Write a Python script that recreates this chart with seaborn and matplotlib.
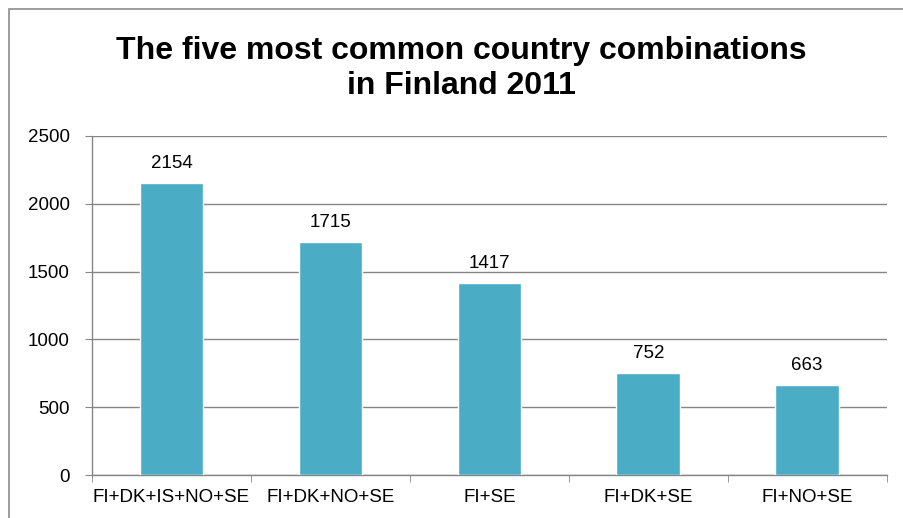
import matplotlib
matplotlib.use("Agg")
import matplotlib.pyplot as plt
import seaborn as sns
import pandas as pd
from matplotlib.patches import Rectangle

# data
combos = ["FI+DK+IS+NO+SE", "FI+DK+NO+SE", "FI+SE", "FI+DK+SE", "FI+NO+SE"]
counts = [2154, 1715, 1417, 752, 663]
y_ticks = [0, 500, 1000, 1500, 2000, 2500]

df = pd.DataFrame({"combo": combos, "count": counts})

sns.set_style("white")
plt.rcParams["font.family"] = ["Liberation Sans", "DejaVu Sans"]
plt.rcParams["text.color"] = "black"
plt.rcParams["xtick.color"] = "black"
plt.rcParams["ytick.color"] = "black"

fig = plt.figure(figsize=(9.04, 5.18), dpi=100)
ax = fig.add_axes([0.1018, 0.083, 0.879, 0.6545])

# chart frame (cut off at the right and bottom)
fig.patches.append(Rectangle((9 / 904, -0.1), 1.2, 1 - 9 / 518 + 0.1,
                             transform=fig.transFigure, fill=False,
                             edgecolor="#8c8c8c", linewidth=1.2))

sns.barplot(data=df, x="combo", y="count", color="#4BACC6", width=0.4,
            saturation=1, ax=ax, zorder=3)

ax.set_ylim(0, 2500)
ax.set_xlim(-0.5, len(combos) - 0.5)
ax.set_yticks(y_ticks)
ax.yaxis.grid(True, color="#868686", linewidth=1)
ax.set_axisbelow(True)

for s in ["top", "right"]:
    ax.spines[s].set_visible(False)
for s in ["left", "bottom"]:
    ax.spines[s].set_color("#868686")
    ax.spines[s].set_linewidth(1)

ax.set_xticks(range(len(combos)))
ax.set_xticklabels(combos)
ax.set_xticks([i - 0.5 for i in range(len(combos) + 1)], minor=True)
ax.tick_params(axis="x", which="major", length=0, labelsize=13.5, pad=10)
ax.tick_params(axis="x", which="minor", length=5, color="#868686", direction="out", bottom=True)
ax.tick_params(axis="y", length=5, color="#868686", labelcolor="black",
               direction="out", left=True, labelsize=13.5, pad=11)

ax.bar_label(ax.containers[0], fontsize=13.5, padding=8, color="black")

ax.set_xlabel("")
ax.set_ylabel("")

fig.text(0.51, 0.868, "The five most common country combinations\nin Finland 2011",
         ha="center", va="center", fontsize=23, fontweight="bold",
         linespacing=1.2, color="black")

fig.savefig("out.png", dpi=100)
